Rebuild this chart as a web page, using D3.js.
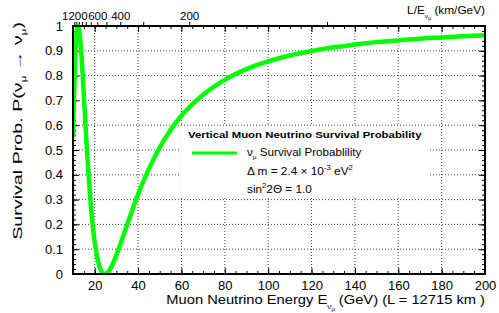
<!DOCTYPE html>
<html>
<head>
<meta charset="utf-8">
<script src="https://cdn.jsdelivr.net/npm/d3@7/dist/d3.min.js"></script>
<style>
  body { margin: 0; background: #fff; }
  svg { display: block; font-family: "Liberation Sans", Arial, Helvetica, sans-serif; }
</style>
</head>
<body>
<div id="chart"></div>
<script>
// Muon neutrino survival probability vs energy (vertical, L = 12715 km)
const baselineKm = 12715

const energyGeV = [10, 10.5, 11, 11.5, 12, 12.34, 12.7, 13, 13.5, 14, 14.5, 15, 15.5, 16, 16.5, 17, 18, 19, 20,
  21, 22, 23, 24, 24.67, 25, 26, 27, 28, 30, 32, 34, 36, 38, 40, 45, 50, 55, 60, 70, 80, 90, 100,
  110, 120, 130, 140, 150, 160, 170, 180, 190, 200]
const survivalProb = [0.551, 0.727, 0.861, 0.949, 0.992, 1.0, 0.992, 0.974, 0.928, 0.867, 0.796, 0.720, 0.642, 0.566, 0.493, 0.424, 0.302, 0.204, 0.129,
  0.074, 0.036, 0.013, 0.002, 0.0, 0.0005, 0.006, 0.018, 0.034, 0.076, 0.124, 0.174, 0.225, 0.274, 0.321, 0.424, 0.510, 0.581, 0.638, 0.723, 0.783, 0.826, 0.857,
  0.881, 0.899, 0.914, 0.925, 0.935, 0.942, 0.949, 0.954, 0.959, 0.963]

const xTickValues = [20, 40, 60, 80, 100, 120, 140, 160, 180, 200]
const yTickValues = [0, 0.1, 0.2, 0.3, 0.4, 0.5, 0.6, 0.7, 0.8, 0.9, 1]
const yTickLabels = ["0", "0.1", "0.2", "0.3", "0.4", "0.5", "0.6", "0.7", "0.8", "0.9", "1"]
const lovETicks = [100, 200, 300, 400, 500, 600, 700, 800, 900, 1000, 1100, 1200]
const lovELabelled = [200, 400, 600, 1200]

const W = 499, H = 313
const margin = { top: 26, right: 14, bottom: 39, left: 73 }
const green = "#00ff00"

const svg = d3.select("#chart").append("svg")
  .attr("width", W)
  .attr("height", H)

const x = d3.scaleLinear().domain([10, 200]).range([margin.left, W - margin.right])
const y = d3.scaleLinear().domain([0, 1]).range([H - margin.bottom, margin.top])
const plotW = W - margin.left - margin.right
const plotH = H - margin.top - margin.bottom

// Grid lines (dotted)
const grid = svg.append("g")
grid.selectAll(".gx").data(xTickValues.slice(0, -1)).enter().append("line")
  .attr("x1", d => x(d)).attr("x2", d => x(d))
  .attr("y1", y(0)).attr("y2", y(1))
  .attr("stroke", "#444").attr("stroke-width", 1).attr("stroke-dasharray", "1,2")
grid.selectAll(".gy").data(yTickValues.slice(1, -1)).enter().append("line")
  .attr("x1", x(10)).attr("x2", x(200))
  .attr("y1", d => y(d)).attr("y2", d => y(d))
  .attr("stroke", "#444").attr("stroke-width", 1).attr("stroke-dasharray", "1,2")

// Inside ticks on all four sides
const xMinor = d3.range(10, 200.01, 5)
const yMinor = d3.range(0, 1.001, 0.02)

function tickAxis(axis, transform) {
  const g = svg.append("g").attr("transform", transform).call(axis)
  g.select(".domain").remove()
  g.selectAll("text").remove()
  g.selectAll("line").attr("stroke", "#000")
  return g
}
tickAxis(d3.axisBottom(x).tickValues(xMinor).tickSize(-3), `translate(0,${y(0)})`)
tickAxis(d3.axisBottom(x).tickValues(xTickValues).tickSize(-6), `translate(0,${y(0)})`)
tickAxis(d3.axisTop(x).tickValues(xMinor).tickSize(-3), `translate(0,${y(1)})`)
tickAxis(d3.axisTop(x).tickValues(xTickValues).tickSize(-6), `translate(0,${y(1)})`)
tickAxis(d3.axisLeft(y).tickValues(yMinor).tickSize(-3), `translate(${x(10)},0)`)
tickAxis(d3.axisLeft(y).tickValues(yTickValues).tickSize(-6), `translate(${x(10)},0)`)
tickAxis(d3.axisRight(y).tickValues(yMinor).tickSize(-3), `translate(${x(200)},0)`)
tickAxis(d3.axisRight(y).tickValues(yTickValues).tickSize(-6), `translate(${x(200)},0)`)

// Tick labels
const xLab = svg.append("g").attr("transform", `translate(0,${y(0)})`)
  .call(d3.axisBottom(x).tickValues(xTickValues).tickSize(0).tickPadding(6.5))
xLab.select(".domain").remove()
xLab.selectAll("text").attr("font-size", 13).attr("fill", "#000").attr("font-family", null)

const yLab = svg.append("g").attr("transform", `translate(${x(10)},0)`)
  .call(d3.axisLeft(y).tickValues(yTickValues).tickSize(0).tickPadding(10)
    .tickFormat((d, i) => yTickLabels[i]))
yLab.select(".domain").remove()
yLab.selectAll("text").attr("font-size", 13).attr("fill", "#000").attr("font-family", null)

// Top L/E axis (ticks outside)
const topAxis = svg.append("g").attr("transform", `translate(0,${y(1)})`)
  .call(d3.axisTop(x)
    .tickValues(lovETicks.map(v => baselineKm / v))
    .tickSize(4).tickPadding(2)
    .tickFormat(e => {
      const v = Math.round(baselineKm / e)
      return lovELabelled.includes(v) ? String(v) : ""
    }))
topAxis.select(".domain").remove()
topAxis.selectAll("line").attr("stroke", "#000")
topAxis.selectAll("text").attr("font-size", 11.5).attr("fill", "#000").attr("font-family", null)

// Curve
svg.append("clipPath").attr("id", "plot-clip")
  .append("rect").attr("x", margin.left).attr("y", margin.top - 3)
  .attr("width", plotW).attr("height", plotH + 3)

const line = d3.line()
  .x((d, i) => x(energyGeV[i]))
  .y(d => y(d))
  .curve(d3.curveMonotoneX)

svg.append("path")
  .datum(survivalProb)
  .attr("clip-path", "url(#plot-clip)")
  .attr("fill", "none")
  .attr("stroke", green)
  .attr("stroke-width", 4.5)
  .attr("d", line)

// Frame
svg.append("rect")
  .attr("x", margin.left).attr("y", margin.top)
  .attr("width", plotW).attr("height", plotH)
  .attr("fill", "none").attr("stroke", "#000").attr("stroke-width", 2)

// Text helper: the reference text is drawn stretched along its run,
// so each label is scaled to the width it takes there.
function stretchedText(px, py, rotate, anchor, size, width) {
  const g = svg.append("g")
  const t = g.append("text").attr("text-anchor", anchor).attr("font-size", size)
  t.fit = () => {
    const w = t.node().getBBox().width
    const s = width / w
    g.attr("transform", `translate(${px},${py})${rotate ? " rotate(-90)" : ""} scale(${s},1)`)
    return t
  }
  return t
}

// Axis titles
const xt = stretchedText(x(200), 304, false, "end", 12.5, 319)
xt.append("tspan").text("Muon Neutrino Energy E")
xt.append("tspan").attr("font-size", 7).attr("dy", 5).text("ν")
xt.append("tspan").attr("font-size", 5).attr("dy", 2).text("μ")
xt.append("tspan").attr("dy", -7).text("  (GeV) (L = 12715 km )")
xt.fit()

const yt = stretchedText(22, 22, true, "end", 12, 218)
yt.append("tspan").text("Survival Prob. P(ν")
yt.append("tspan").attr("font-size", 7).attr("dy", 4).text("μ")
yt.append("tspan").attr("dy", -4).text(" → ν")
yt.append("tspan").attr("font-size", 7).attr("dy", 4).text("μ")
yt.append("tspan").attr("dy", -4).text(")")
yt.fit()

const tt = stretchedText(x(200), 14, false, "end", 10.5, 78)
tt.append("tspan").text("L/E")
tt.append("tspan").attr("font-size", 6).attr("dy", 4).text("ν")
tt.append("tspan").attr("font-size", 4.5).attr("dy", 2).text("μ")
tt.append("tspan").attr("dy", -6).text("  (km/GeV)")
tt.fit()

// Legend (white box hides the grid behind it)
svg.append("rect")
  .attr("x", 181).attr("y", 126).attr("width", 249).attr("height", 72)
  .attr("fill", "#fff")

stretchedText(188, 138, false, "start", 9.4, 234)
  .attr("font-weight", "bold")
  .text("Vertical Muon Neutrino Survival Probability")
  .call(t => t.fit())

svg.append("line")
  .attr("x1", 192).attr("x2", 237).attr("y1", 153).attr("y2", 153)
  .attr("stroke", green).attr("stroke-width", 3)

const l1 = stretchedText(247, 156, false, "start", 10.7, 115)
l1.append("tspan").text("ν")
l1.append("tspan").attr("font-size", 6).attr("dy", 3).text("μ")
l1.append("tspan").attr("dy", -3).text(" Survival Probablility")
l1.fit()

const l2 = stretchedText(247, 175, false, "start", 10.7, 106)
l2.append("tspan").text("Δ m  = 2.4 × 10")
l2.append("tspan").attr("font-size", 7).attr("dy", -5).text("-3")
l2.append("tspan").attr("dy", 5).text(" eV")
l2.append("tspan").attr("font-size", 7).attr("dy", -5).text("2")
l2.fit()

const l3 = stretchedText(247, 193, false, "start", 10.7, 65)
l3.append("tspan").text("sin")
l3.append("tspan").attr("font-size", 7).attr("dy", -5).text("2")
l3.append("tspan").attr("dy", 5).text("2Θ  = 1.0")
l3.fit()
</script>
</body>
</html>
